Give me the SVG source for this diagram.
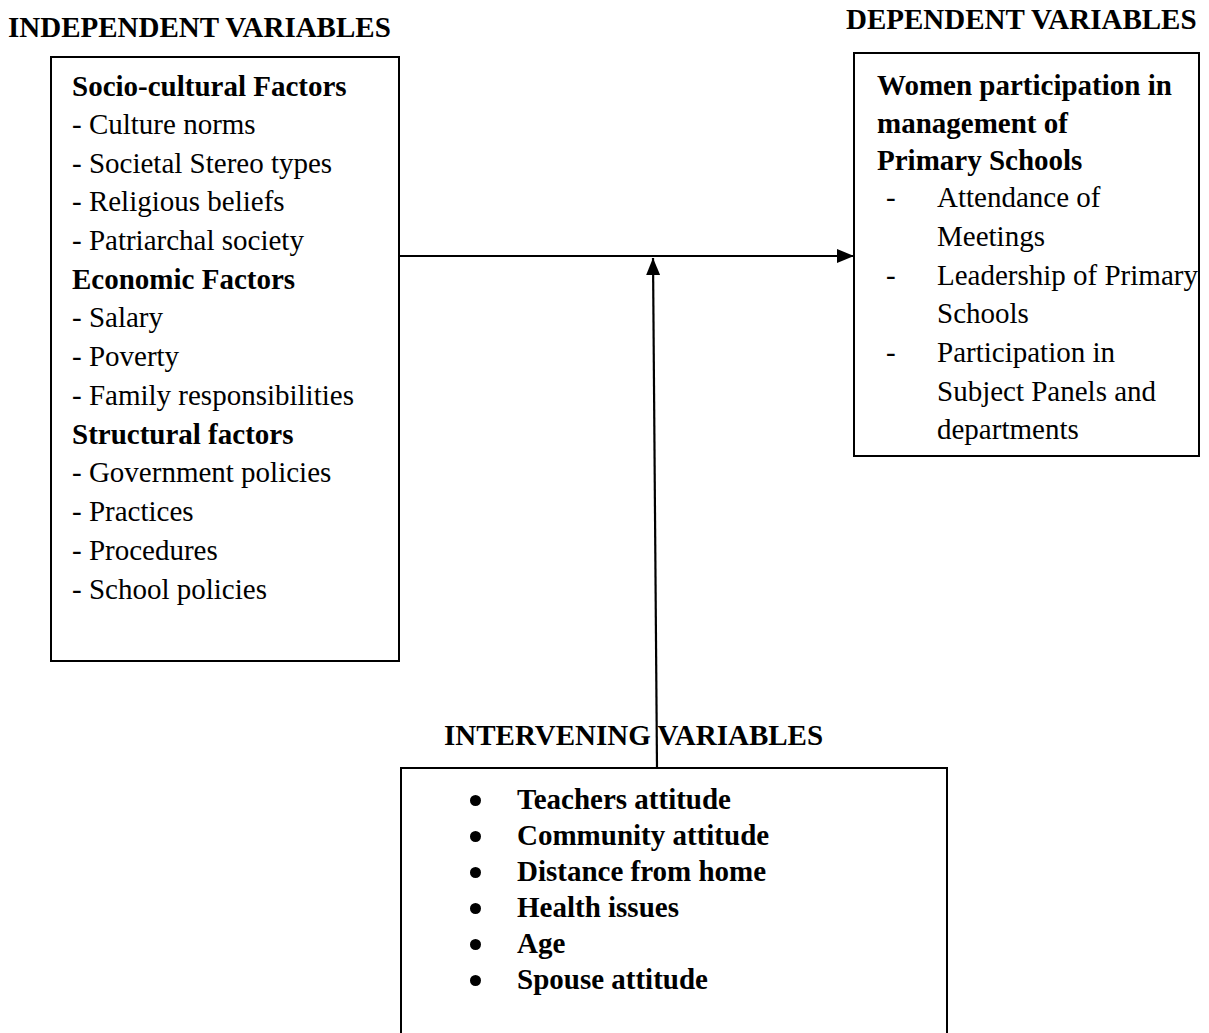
<svg xmlns="http://www.w3.org/2000/svg" width="1209" height="1033" viewBox="0 0 1209 1033">
<style>
text{font-family:"Liberation Serif","Times New Roman",serif;font-size:29px;fill:#000}
.b{font-weight:bold}
.box{fill:#fff;stroke:#000;stroke-width:2}
.ln{stroke:#000;stroke-width:2.2;fill:none}
</style>
<defs>
<marker id="ah" viewBox="0 0 17 14" refX="17" refY="7" markerWidth="17" markerHeight="14" markerUnits="userSpaceOnUse" orient="auto">
<path d="M0,0L17,7L0,14z" fill="#000"/>
</marker>
</defs>
<rect width="1209" height="1033" fill="#fff"/>
<g id="independent">
<text class="b" x="8" y="37">INDEPENDENT VARIABLES</text>
<rect class="box" x="51" y="57" width="348" height="604"/>
<text class="b" x="72" y="96">Socio-cultural Factors</text>
<text x="72" y="134">- Culture norms</text>
<text x="72" y="173">- Societal Stereo types</text>
<text x="72" y="211">- Religious beliefs</text>
<text x="72" y="250">- Patriarchal society</text>
<text class="b" x="72" y="289">Economic Factors</text>
<text x="72" y="327">- Salary</text>
<text x="72" y="366">- Poverty</text>
<text x="72" y="405">- Family responsibilities</text>
<text class="b" x="72" y="444">Structural factors</text>
<text x="72" y="482">- Government policies</text>
<text x="72" y="521">- Practices</text>
<text x="72" y="560">- Procedures</text>
<text x="72" y="599">- School policies</text>
</g>
<g id="dependent">
<text class="b" x="846" y="29">DEPENDENT VARIABLES</text>
<rect class="box" x="854" y="53" width="345" height="403"/>
<text class="b" x="877" y="95">Women participation in</text>
<text class="b" x="877" y="133">management of</text>
<text class="b" x="877" y="170">Primary Schools</text>
<text x="886" y="207">-</text>
<text x="937" y="207">Attendance of</text>
<text x="937" y="246">Meetings</text>
<text x="886" y="285">-</text>
<text x="937" y="285">Leadership of Primary</text>
<text x="937" y="323">Schools</text>
<text x="886" y="362">-</text>
<text x="937" y="362">Participation in</text>
<text x="937" y="401">Subject Panels and</text>
<text x="937" y="439">departments</text>
</g>
<g id="intervening">
<rect class="box" x="401" y="768" width="546" height="280"/>
<text class="b" x="517" y="809">Teachers attitude</text>
<text class="b" x="517" y="845">Community attitude</text>
<text class="b" x="517" y="881">Distance from home</text>
<text class="b" x="517" y="917">Health issues</text>
<text class="b" x="517" y="953">Age</text>
<text class="b" x="517" y="989">Spouse attitude</text>
<g fill="#000">
<circle cx="475.5" cy="800.5" r="5.5"/>
<circle cx="475.5" cy="836.5" r="5.5"/>
<circle cx="475.5" cy="872.5" r="5.5"/>
<circle cx="475.5" cy="908.5" r="5.5"/>
<circle cx="475.5" cy="944.5" r="5.5"/>
<circle cx="475.5" cy="980.5" r="5.5"/>
</g>
</g>
<g id="connectors">
<line class="ln" x1="400" y1="256" x2="854" y2="256" marker-end="url(#ah)"/>
<line class="ln" x1="657" y1="768" x2="653" y2="258" marker-end="url(#ah)"/>
</g>
<text class="b" x="444" y="745">INTERVENING VARIABLES</text>
</svg>
